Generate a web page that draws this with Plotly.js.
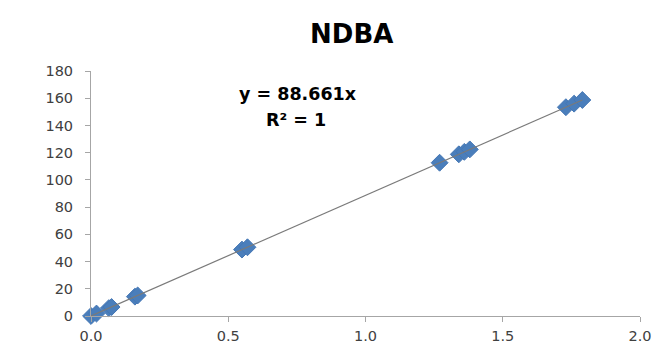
<!DOCTYPE html>
<html>
<head>
<meta charset="utf-8">
<script src="https://cdn.plot.ly/plotly-3.0.1.min.js"></script>
<style>
  html, body { margin: 0; padding: 0; background: #fff; }
  #chart { width: 670px; height: 356px; }
</style>
</head>
<body>
<div id="chart"></div>
<script>
// Calibration points for NDBA: concentration ratio vs. response
const concentration = [0.00, 0.02, 0.065, 0.075, 0.16, 0.17, 0.55, 0.57,
                       1.27, 1.34, 1.36, 1.38, 1.73, 1.76, 1.79];
const response = [0.0, 1.8, 5.8, 6.6, 14.2, 15.1, 48.8, 50.5,
                  112.6, 118.8, 120.6, 122.4, 153.4, 156.0, 158.7];

// Linear fit through the origin
const slope = 88.661;
const fitX = [0, Math.max(...concentration)];
const fitY = fitX.map(v => slope * v);

const xTicks = [0, 0.5, 1.0, 1.5, 2.0];
const yTicks = [0, 20, 40, 60, 80, 100, 120, 140, 160, 180];

const axisFont = { family: 'DejaVu Sans, Verdana, sans-serif', size: 14.5, color: '#404040' };

const traces = [
  {
    x: concentration, y: response,
    type: 'scatter', mode: 'markers', cliponaxis: false,
    marker: { symbol: 'diamond', size: 13, color: '#4A7EBB',
              line: { color: '#4577B5', width: 1 } },
    hoverinfo: 'x+y'
  },
  {
    x: fitX, y: fitY,
    type: 'scatter', mode: 'lines', cliponaxis: false,
    line: { color: '#7a7a7a', width: 1.2 },
    hoverinfo: 'skip'
  }
];

const layout = {
  width: 670, height: 356,
  margin: { l: 91, r: 30, t: 71, b: 40 },
  paper_bgcolor: '#fff', plot_bgcolor: '#fff',
  showlegend: false,
  title: {
    text: '<b>NDBA</b>',
    x: 0.525, xanchor: 'center',
    y: 0.905, yanchor: 'middle',
    font: { family: 'DejaVu Sans, Verdana, sans-serif', size: 26, color: '#000' }
  },
  xaxis: {
    range: [0, 2], tickvals: xTicks, tickformat: '.1f',
    showgrid: false, zeroline: false,
    showline: true, linecolor: '#a6a6a6', linewidth: 1,
    ticks: 'outside', ticklen: 5, tickcolor: '#a6a6a6',
    ticklabelstandoff: 2,
    tickfont: axisFont, fixedrange: true
  },
  yaxis: {
    range: [0, 180], tickvals: yTicks,
    showgrid: false, zeroline: false,
    showline: true, linecolor: '#a6a6a6', linewidth: 1,
    ticks: 'outside', ticklen: 5, tickcolor: '#a6a6a6',
    ticklabelstandoff: 9,
    tickfont: axisFont, fixedrange: true
  },
  annotations: [
    {
      xref: 'paper', yref: 'paper',
      x: (298 - 91) / 549, y: (316 - 94) / 245,
      xanchor: 'center', yanchor: 'middle', showarrow: false,
      text: '<b>y = 88.661x</b>',
      font: { family: 'DejaVu Sans, Verdana, sans-serif', size: 17.5, color: '#000' }
    },
    {
      xref: 'paper', yref: 'paper',
      x: (296 - 91) / 549, y: (316 - 120) / 245,
      xanchor: 'center', yanchor: 'middle', showarrow: false,
      text: '<b>R² = 1</b>',
      font: { family: 'DejaVu Sans, Verdana, sans-serif', size: 17.5, color: '#000' }
    }
  ]
};

Plotly.newPlot('chart', traces, layout, { staticPlot: true, displayModeBar: false });
</script>
</body>
</html>
